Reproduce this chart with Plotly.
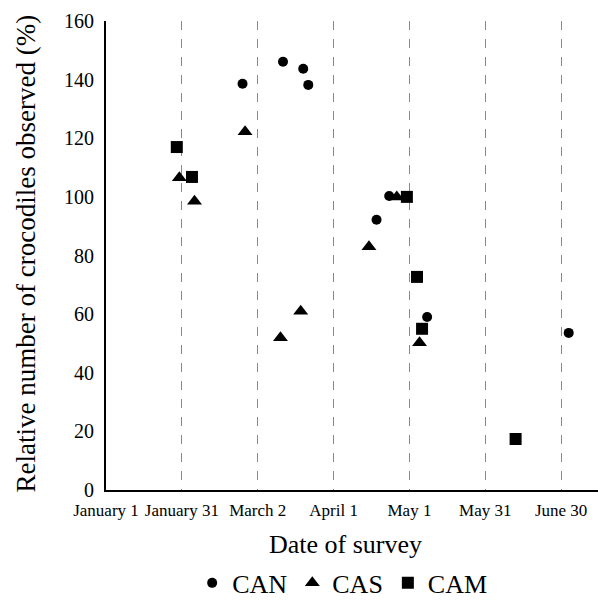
import plotly.graph_objects as go

# Survey dates (2001, non-leap year) and relative numbers (%)
can_dates = ["2001-02-24", "2001-03-12", "2001-03-20", "2001-03-22", "2001-04-18",
             "2001-04-23", "2001-05-08", "2001-07-03"]
can_values = [138.6, 146.1, 143.7, 138.2, 92.2, 100.3, 59.0, 53.6]

cas_dates = ["2001-01-30", "2001-02-05", "2001-02-25", "2001-03-11", "2001-03-19",
             "2001-04-15", "2001-04-26", "2001-05-05"]
cas_values = [106.5, 98.5, 122.2, 51.9, 61.0, 83.0, 100.0, 50.2]

cam_dates = ["2001-01-29", "2001-02-04", "2001-04-30", "2001-05-04", "2001-05-06",
             "2001-06-12"]
cam_values = [117.0, 106.8, 100.0, 72.7, 55.0, 17.4]

tick_dates = ["2001-01-01", "2001-01-31", "2001-03-02", "2001-04-01", "2001-05-01",
              "2001-05-31", "2001-06-30"]
tick_labels = ["January 1", "January 31", "March 2", "April 1", "May 1", "May 31", "June 30"]
y_ticks = [0, 20, 40, 60, 80, 100, 120, 140, 160]

FONT = "Liberation Serif, Times New Roman, DejaVu Serif, serif"

fig = go.Figure()
fig.add_trace(go.Scatter(x=can_dates, y=can_values, mode="markers", name="CAN",
                         marker=dict(symbol="circle", size=10, color="black")))
fig.add_trace(go.Scatter(x=cas_dates, y=cas_values, mode="markers", name="CAS",
                         marker=dict(symbol="triangle-up", size=13, color="black")))
fig.add_trace(go.Scatter(x=cam_dates, y=cam_values, mode="markers", name="CAM",
                         marker=dict(symbol="square", size=12, color="black")))

fig.update_layout(
    width=598, height=601,
    margin=dict(l=106, r=0, t=21, b=111),
    paper_bgcolor="white", plot_bgcolor="white",
    font=dict(family=FONT, color="black"),
    showlegend=True,
    legend=dict(orientation="h", x=0.48, xanchor="center",
                yref="container", y=0.03, yanchor="middle",
                font=dict(size=26, family=FONT), bgcolor="rgba(0,0,0,0)"),
    xaxis=dict(
        type="date", range=["2001-01-01", "2001-07-14 14:00"],
        tickvals=tick_dates, ticktext=tick_labels,
        tickfont=dict(size=17, family=FONT),
        showgrid=True, gridcolor="#888888", griddash="dash", gridwidth=1,
        showline=True, linecolor="black", linewidth=2,
        ticks="", zeroline=False, automargin=False, ticklabelstandoff=4,
    ),
    yaxis=dict(
        range=[0, 160], tickvals=y_ticks,
        tickfont=dict(size=20, family=FONT),
        showgrid=False, showline=True, linecolor="black", linewidth=2,
        ticks="", zeroline=False, ticklabelstandoff=6, automargin=False,
    ),
    annotations=[
        dict(text="Date of survey", xref="paper", yref="paper",
             x=0.486, y=-0.117, xanchor="center", yanchor="middle",
             showarrow=False, font=dict(size=26, family=FONT)),
        dict(text="Relative number of crocodiles observed (%)", xref="paper", yref="paper",
             x=-0.162, y=0.505, xanchor="center", yanchor="middle", textangle=-90,
             showarrow=False, font=dict(size=27, family=FONT)),
    ],
)

fig.write_html("out.html")
